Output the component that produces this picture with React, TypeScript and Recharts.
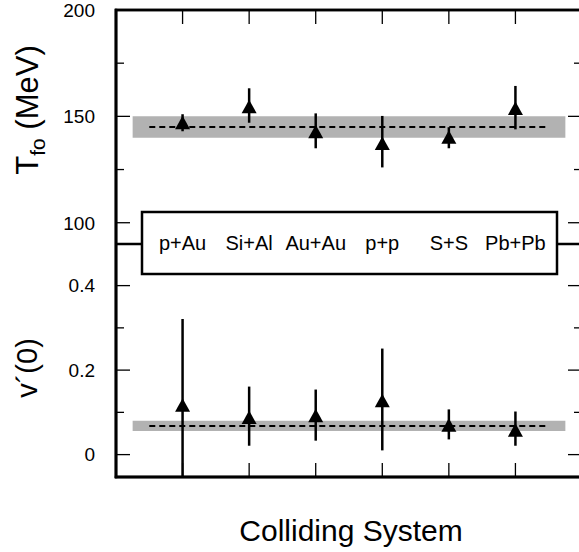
import { ScatterChart, Scatter, XAxis, YAxis, ErrorBar, ReferenceArea, ReferenceLine } from 'recharts';

const systems = ['p+Au', 'Si+Al', 'Au+Au', 'p+p', 'S+S', 'Pb+Pb'];

// freeze-out temperature, MeV
const tfo = [146, 153.6, 141.8, 136.3, 139.2, 152.8];
const tfoErrLow = [3, 6.6, 6.8, 10.3, 4.2, 8.9];
const tfoErrHigh = [5, 9.6, 9.6, 13.9, 5.7, 11.5];
const tfoMean = 145;
const tfoBand = [140, 150];

// v'(0)
const vPrime = [0.112, 0.083, 0.087, 0.123, 0.065, 0.053];
const vErrLow = [0.165, 0.062, 0.054, 0.113, 0.029, 0.032];
const vErrHigh = [0.209, 0.078, 0.067, 0.128, 0.042, 0.049];
const vMean = 0.068;
const vBand = [0.056, 0.08];

const catTicks = [1, 2, 3, 4, 5, 6];
const catDomain = [0, 7];
const tfoTicks = [100, 125, 150, 175, 200];
const tfoTickLabels = ['100', '', '150', '', '200'];
const vTicks = [0, 0.1, 0.2, 0.3, 0.4];
const vTickLabels = ['0', '', '0.2', '', '0.4'];

// layout (px)
const W = 600;
const H = 552;
const LEFT = 116;
const RIGHT = 582;
const TOP = 10;
const MID = 244;
const BOTTOM = 477;
const PLOT_W = RIGHT - LEFT;
const AX = 1; // recharts hides an axis of zero size
const FONT = '"Liberation Sans", Arial, Helvetica, sans-serif';
const GREY = '#b2b2b2';

// each panel owns its half of the frame: T_fo 90..200 on top, v'(0) -0.05..0.5 below
const tfoDomain = [200 - ((BOTTOM - TOP) * 110) / (MID - TOP), 200];
const vDomain = [-0.05, -0.05 + ((BOTTOM - TOP) * 0.55) / (BOTTOM - MID)];

const tfoData = systems.map((s, i) => ({ name: s, x: i + 1, y: tfo[i], err: [tfoErrLow[i], tfoErrHigh[i]] }));
const vData = systems.map((s, i) => ({ name: s, x: i + 1, y: vPrime[i], err: [vErrLow[i], vErrHigh[i]] }));

function Triangle(props: any) {
  const { cx, cy } = props;
  if (cx == null || cy == null) return null;
  const pts = `${cx},${cy - 9} ${cx - 7.5},${cy + 4.5} ${cx + 7.5},${cy + 4.5}`;
  return <polygon points={pts} fill="#000" />;
}

// y ticks: labelled inward mark on the left edge, bare inward mark on the right edge
function makeYTick(ticks: number[], labels: string[], side: 'left' | 'right') {
  return (p: any) => {
    const { y, payload } = p;
    const xl = side === 'left' ? p.x : p.x - PLOT_W;
    const xr = xl + PLOT_W;
    const lab = labels[ticks.indexOf(payload.value)] || '';
    const len = lab ? 14 : 8;
    return (
      <g>
        <line x1={xl} x2={xl + len} y1={y} y2={y} stroke="#000" strokeWidth={1.3} />
        <line x1={xr} x2={xr - len} y1={y} y2={y} stroke="#000" strokeWidth={1.3} />
        {lab && (
          <text x={xl - 21} y={y} dy="0.36em" textAnchor="end" fontSize={19} fill="#000">
            {lab}
          </text>
        )}
      </g>
    );
  };
}

// x ticks: inward marks on top and bottom edges, names in the boxed strip on the divider
function XTick(p: any) {
  const { x, index, payload } = p;
  return (
    <g>
      {index === 0 && (
        <g>
          <rect x={LEFT} y={TOP} width={PLOT_W} height={BOTTOM - TOP} fill="none" stroke="#000" strokeWidth={2.5} />
          <line x1={LEFT} x2={RIGHT} y1={MID} y2={MID} stroke="#000" strokeWidth={2.5} />
          <rect x={142} y={212} width={415} height={62} fill="#fff" stroke="#000" strokeWidth={2.5} />
        </g>
      )}
      <rect x={x - 0.65} y={TOP} width={1.3} height={14} fill="#000" />
      <rect x={x - 0.65} y={BOTTOM - 14} width={1.3} height={14} fill="#000" />
      <text x={x} y={MID + 5.5} textAnchor="middle" fontSize={20} fill="#000">
        {systems[payload.value - 1]}
      </text>
    </g>
  );
}

const frameLine = { stroke: '#000', strokeWidth: 2.5, strokeLinecap: 'square' as const };

function Titles() {
  return (
    <svg width={579} height={H} style={{ position: 'absolute', left: 0, top: 0, pointerEvents: 'none' }}>
      <rect x={LEFT} y={TOP} width={PLOT_W} height={BOTTOM - TOP} fill="none" stroke="#000" strokeWidth={2.5} />
      <text transform="translate(37.5,110) rotate(-90)" textAnchor="middle" fontSize={31} fill="#000">
        <tspan>T</tspan>
        <tspan dy={7} fontSize={21}>fo</tspan>
        <tspan dy={-7}> (MeV)</tspan>
      </text>
      <text transform="translate(37,368) rotate(-90)" textAnchor="middle" fontSize={29} fill="#000">
        v´(0)
      </text>
      <text x={351} y={541} textAnchor="middle" fontSize={30} fill="#000">
        Colliding System
      </text>
    </svg>
  );
}

export default function App() {
  return (
    <div
      style={{
        position: 'absolute',
        left: 0,
        top: 0,
        width: 579,
        height: H,
        overflow: 'hidden',
        background: '#fff',
        fontFamily: FONT,
      }}
    >
      <Titles />
      <div style={{ position: 'absolute', left: 0, top: 0 }}>
        <ScatterChart
          width={W}
          height={H}
          margin={{ top: TOP, bottom: H - BOTTOM - AX, left: LEFT - AX, right: W - RIGHT - AX }}
        >
          <XAxis
            type="number"
            dataKey="x"
            domain={catDomain}
            ticks={catTicks}
            interval={0}
            height={AX}
            tickSize={0}
            tickMargin={0}
            axisLine={frameLine}
            tickLine={false}
            tick={XTick}
          />
          <YAxis
            yAxisId="t"
            type="number"
            dataKey="y"
            domain={tfoDomain}
            ticks={tfoTicks}
            interval={0}
            width={AX}
            tickSize={0}
            tickMargin={0}
            axisLine={frameLine}
            tickLine={false}
            tick={makeYTick(tfoTicks, tfoTickLabels, 'left')}
          />
          <YAxis
            yAxisId="v"
            orientation="right"
            type="number"
            dataKey="y"
            domain={vDomain}
            ticks={vTicks}
            interval={0}
            width={AX}
            tickSize={0}
            tickMargin={0}
            axisLine={frameLine}
            tickLine={false}
            tick={makeYTick(vTicks, vTickLabels, 'right')}
          />
          <ReferenceArea
            yAxisId="t"
            x1={0.25}
            x2={6.75}
            y1={tfoBand[0]}
            y2={tfoBand[1]}
            fill={GREY}
            fillOpacity={1}
            stroke="none"
          />
          <ReferenceLine
            yAxisId="t"
            segment={[{ x: 0.5, y: tfoMean }, { x: 6.5, y: tfoMean }]}
            stroke="#000"
            strokeWidth={2}
            strokeDasharray="6 4"
          />
          <ReferenceArea
            yAxisId="v"
            x1={0.25}
            x2={6.75}
            y1={vBand[0]}
            y2={vBand[1]}
            fill={GREY}
            fillOpacity={1}
            stroke="none"
          />
          <ReferenceLine
            yAxisId="v"
            segment={[{ x: 0.5, y: vMean }, { x: 6.5, y: vMean }]}
            stroke="#000"
            strokeWidth={2}
            strokeDasharray="6 4"
          />
          <Scatter yAxisId="t" data={tfoData} shape={Triangle} isAnimationActive={false}>
            <ErrorBar dataKey="err" direction="y" width={0} stroke="#000" strokeWidth={2.5} isAnimationActive={false} />
          </Scatter>
          <Scatter yAxisId="v" data={vData} shape={Triangle} isAnimationActive={false}>
            <ErrorBar dataKey="err" direction="y" width={0} stroke="#000" strokeWidth={2.5} isAnimationActive={false} />
          </Scatter>
        </ScatterChart>
      </div>
    </div>
  );
}
